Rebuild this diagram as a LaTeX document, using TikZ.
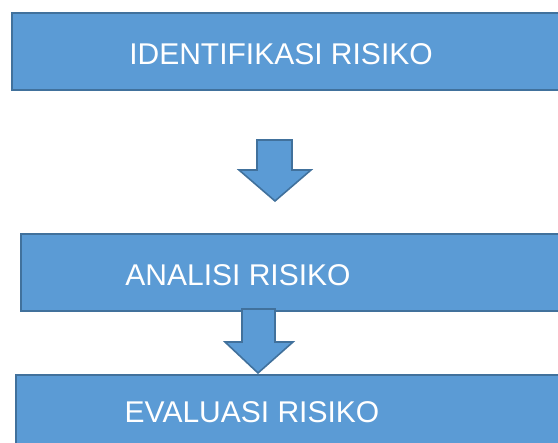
\documentclass[tikz,border=0pt]{standalone}
\usepackage{fontspec}
\setmainfont{Liberation Sans}
\definecolor{boxfill}{HTML}{5B9BD5}
\definecolor{boxline}{HTML}{41719C}
\begin{document}
\begin{tikzpicture}[x=1pt,y=-1pt,
  stepbox/.style={draw=boxline,fill=boxfill,line width=1.6pt,rectangle,inner sep=0pt,anchor=north west},
  steptext/.style={text=white,font=\fontsize{30}{34}\selectfont,anchor=base,inner sep=0pt},
  blockarrow/.style={draw=boxline,fill=boxfill,line width=1.6pt,line join=miter}]
\useasboundingbox (0,0) rectangle (558,443);
\clip (0,0) rectangle (558,443);
\node[stepbox,minimum width=560pt,minimum height=77pt] (b1) at (11,12) {};
\node[steptext] (t1) at (281,65) {IDENTIFIKASI RISIKO};
\node[stepbox,minimum width=560pt,minimum height=77pt] (b2) at (20,233) {};
\node[steptext] (t2) at (238,286) {ANALISI RISIKO};
% arrow 1
\coordinate (a1) at (275,201);
\draw[blockarrow] (257,140) -- (292,140) -- (292,170) -- (311,170) -- (a1) -- (239,170) -- (257,170) -- cycle;
% arrow 2
\coordinate (a2) at (258,373);
\draw[blockarrow] (242,309) -- (275,309) -- (275,342) -- (293,342) -- (a2) -- (225,342) -- (242,342) -- cycle;
\node[stepbox,minimum width=560pt,minimum height=90pt] (b3) at (15,374) {};
\node[steptext] (t3) at (252,423) {EVALUASI RISIKO};
\end{tikzpicture}
\end{document}
